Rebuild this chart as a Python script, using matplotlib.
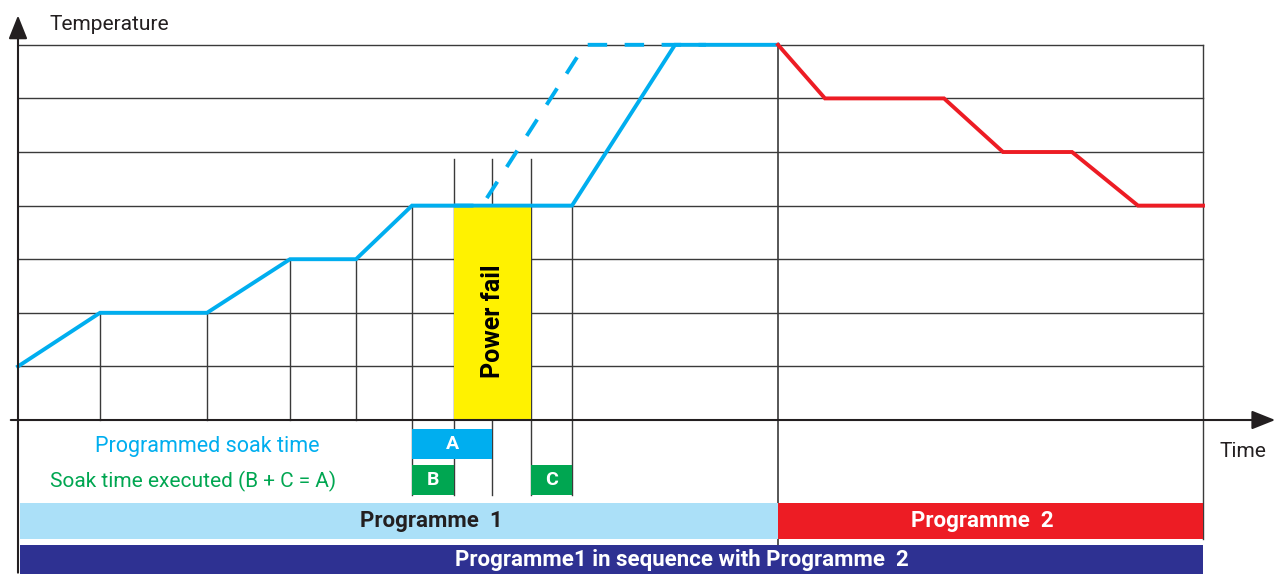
import matplotlib
matplotlib.use("Agg")
import matplotlib.pyplot as plt
from matplotlib.patches import Rectangle, FancyArrowPatch

# ---------------- data ----------------
# time in arbitrary units from start, temperature in grid levels
prog1_time = [0, 82, 189, 272, 338, 394, 554, 657, 760]
prog1_temp = [1, 2, 2, 3, 3, 4, 4, 7, 7]
prog2_time = [760, 807, 926, 985, 1054, 1120, 1185]
prog2_temp = [7, 6, 6, 5, 5, 4, 4]
planned_time = [436, 464, 567, 688]
planned_temp = [4, 4, 7, 7]
step_marks = [82, 189, 272, 338]
step_levels = [2, 2, 3, 3]
power_fail = (436, 513)
soak_A = (394, 474)
soak_B = (394, 436)
soak_C = (513, 554)
prog1_span = (2, 760)
prog2_span = (760, 1185)
grid_levels = [1, 2, 3, 4, 5, 6, 7]

BLUE = "#00aeef"
GREEN = "#00a651"
RED = "#ed1c24"
LIGHT = "#abe0f8"
NAVY = "#2e3192"
YELLOW = "#fff200"
INK = "#231f20"

FONT = ["Liberation Sans Narrow", "Roboto", "DejaVu Sans"]
plt.rcParams["font.family"] = FONT

fig = plt.figure(figsize=(12.79, 5.74), dpi=100)
ax = fig.add_axes([0, 0, 1, 1])
ax.set_xlim(-18, 1261)
ax.set_ylim(-2.873, 7.836)
ax.axis("off")

# grid
for g in grid_levels:
    ax.plot([0, 1185], [g, g], color="#3a3a3a", lw=1.0, zorder=1)
ax.plot([1185, 1185], [7, -2.22], color="#3a3a3a", lw=1.0, zorder=1)

# power fail
ax.add_patch(Rectangle((power_fail[0], 0), power_fail[1] - power_fail[0], 4,
                       facecolor=YELLOW, edgecolor="none", zorder=2))
ax.text(sum(power_fail) / 2, 1.85, "Power fail", rotation=90, ha="center", va="center",
        fontsize=18, fontweight="bold", color="black", zorder=5)

# vertical marker lines
for t, lv in zip(step_marks, step_levels):
    ax.plot([t, t], [0, lv], color="#3a3a3a", lw=1.0, zorder=1)
ax.plot([soak_A[0]] * 2, [4, -1.40], color="#3a3a3a", lw=1.0, zorder=1)
for t in [power_fail[0], soak_A[1], power_fail[1]]:
    ax.plot([t, t], [4.87, -1.40], color="#3a3a3a", lw=1.0, zorder=1)
ax.plot([soak_C[1]] * 2, [4, -1.40], color="#3a3a3a", lw=1.0, zorder=1)
ax.plot([760, 760], [7, -2.33], color="#3a3a3a", lw=1.2, zorder=1)

# profiles
ax.plot(planned_time, planned_temp, color=BLUE, lw=2.8, ls=(0, (5, 4.5)), zorder=3)
ax.plot(prog1_time, prog1_temp, color=BLUE, lw=2.8, zorder=4, solid_joinstyle="miter")
ax.plot(prog2_time, prog2_temp, color=RED, lw=2.8, zorder=4, solid_joinstyle="miter")

# axes arrows
ax.add_patch(FancyArrowPatch((-10, 0), (1260, 0), arrowstyle="-|>,head_length=8,head_width=3.2",
                             color=INK, lw=1.5, mutation_scale=1.8, zorder=6))
ax.add_patch(FancyArrowPatch((0, -2.9), (0, 7.6), arrowstyle="-|>,head_length=8,head_width=3.2",
                             color=INK, lw=1.5, mutation_scale=1.8, zorder=6))
ax.text(32, 7.38, "Temperature", ha="left", va="center", fontsize=15, color=INK)
ax.text(1225, -0.58, "Time", ha="center", va="center", fontsize=15, color=INK)

# soak boxes
ax.add_patch(Rectangle((soak_A[0], -0.728), soak_A[1] - soak_A[0], 0.56,
                       facecolor=BLUE, edgecolor="none", zorder=3))
ax.text(sum(soak_A) / 2, -0.448, "A", ha="center", va="center", color="white",
        fontsize=14, fontweight="bold", zorder=5)
for (s, e), lab in [(soak_B, "B"), (soak_C, "C")]:
    ax.add_patch(Rectangle((s, -1.40), e - s, 0.56, facecolor=GREEN, edgecolor="none", zorder=3))
    ax.text((s + e) / 2, -1.12, lab, ha="center", va="center", color="white",
            fontsize=14, fontweight="bold", zorder=5)

ax.text(189, -0.49, "Programmed soak time", ha="center", va="center", color=BLUE, fontsize=15.5)
ax.text(175, -1.14, "Soak time executed (B + C = A)", ha="center", va="center", color=GREEN, fontsize=15)

# programme bars
ax.add_patch(Rectangle((prog1_span[0], -2.22), prog1_span[1] - prog1_span[0], 0.67,
                       facecolor=LIGHT, edgecolor="none", zorder=2))
ax.text(sum(prog1_span) / 2 + 32, -1.885, "Programme  1", ha="center", va="center",
        color=INK, fontsize=16, fontweight="bold")
ax.add_patch(Rectangle((prog2_span[0], -2.22), prog2_span[1] - prog2_span[0], 0.67,
                       facecolor=RED, edgecolor="none", zorder=2))
ax.text(sum(prog2_span) / 2 - 8, -1.885, "Programme  2", ha="center", va="center",
        color="white", fontsize=16, fontweight="bold")
ax.add_patch(Rectangle((prog1_span[0], -2.95), prog2_span[1] - prog1_span[0], 0.62,
                       facecolor=NAVY, edgecolor="none", zorder=2))
ax.text(664, -2.62, "Programme1 in sequence with Programme  2", ha="center", va="center",
        color="white", fontsize=16, fontweight="bold")

fig.savefig("out.png", dpi=100)
